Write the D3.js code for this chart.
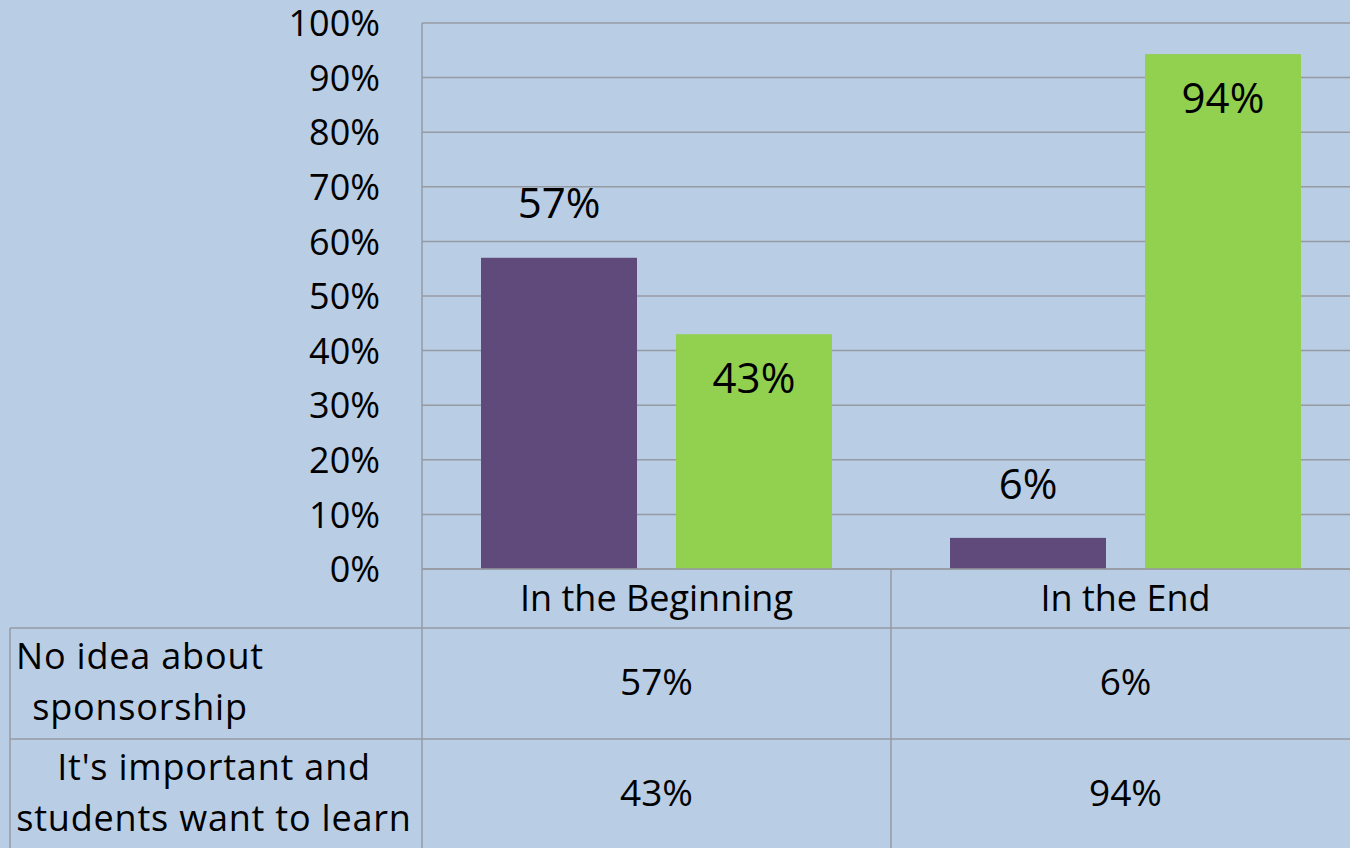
<!DOCTYPE html>
<html>
<head>
<meta charset="utf-8">
<script src="https://cdn.jsdelivr.net/npm/d3@7"></script>
<style>
  html, body { margin: 0; padding: 0; background: #B9CDE5; }
  svg { display: block; }
  text { font-family: "Open Sans", "DejaVu Sans", sans-serif; fill: #000; }
</style>
</head>
<body>
<svg id="chart" width="1350" height="848"></svg>
<script>
// ---- data ----
const categories = ["In the Beginning", "In the End"];
const seriesNames = ["No idea about sponsorship", "It's important and students want to learn"];
const seriesLabelLines = [["No idea about", "sponsorship"], ["It's important and", "students want to learn"]];
const noIdeaValues = [0.57, 0.057];
const importantValues = [0.43, 0.943];
const tickValues = [0, 0.1, 0.2, 0.3, 0.4, 0.5, 0.6, 0.7, 0.8, 0.9, 1.0];
const seriesColors = ["#604A7B", "#92D050"];

const seriesValues = [noIdeaValues, importantValues];
const fmt = d3.format(".0%");

const W = 1350, H = 848;
const plotLeft = 422, plotTop = 23, plotBottom = 569;
const bandW = 469;
const svg = d3.select("#chart");
const gridColor = "#969aa2";

const x = d3.scaleBand().domain(categories).range([plotLeft, plotLeft + bandW * categories.length]).padding(0);
const xs = d3.scaleBand().domain(seriesNames).range([0, x.bandwidth()]).paddingInner(0.2).paddingOuter(0.3026);
const y = d3.scaleLinear().domain([0, 1]).range([plotBottom, plotTop]);

// gridlines
svg.append("g").selectAll("line").data(tickValues).join("line")
  .attr("x1", plotLeft).attr("x2", W)
  .attr("y1", d => y(d)).attr("y2", d => y(d))
  .attr("stroke", gridColor).attr("stroke-width", 1.5);

// y axis labels
const yAxis = d3.axisLeft(y).tickValues(tickValues).tickFormat(d3.format(".0%")).tickSize(0).tickPadding(0);
const gy = svg.append("g").attr("transform", `translate(380,0)`).call(yAxis);
gy.select(".domain").remove();
gy.selectAll("text").style("font-size", "36px").style("font-family", "'Open Sans', sans-serif").attr("fill", "#000").attr("dy", "0.35em");

// bars
const data = [];
categories.forEach((c, i) => seriesNames.forEach((s, j) => data.push({c, s, j, v: seriesValues[j][i]})));
svg.append("g").selectAll("rect").data(data).join("rect")
  .attr("x", d => x(d.c) + xs(d.s))
  .attr("y", d => y(d.v))
  .attr("width", xs.bandwidth())
  .attr("height", d => y(0) - y(d.v))
  .attr("fill", d => seriesColors[d.j]);

// bar labels
svg.append("g").selectAll("text").data(data).join("text")
  .attr("x", d => x(d.c) + xs(d.s) + xs.bandwidth() / 2)
  .attr("y", d => d.j === 0 ? y(d.v) - 54 : y(d.v) + 44)
  .attr("dy", "0.35em")
  .attr("text-anchor", "middle")
  .style("font-size", "42px")
  .text(d => fmt(d.v));

// frame / table lines
const lines = [
  [plotLeft, plotTop, plotLeft, H],
  [plotLeft, plotBottom, W, plotBottom],
  [10, 628, W, 628],
  [10, 739, W, 739],
  [10, 628, 10, H],
  [plotLeft + bandW, plotBottom, plotLeft + bandW, H]
];
svg.append("g").selectAll("line").data(lines).join("line")
  .attr("x1", d => d[0]).attr("y1", d => d[1]).attr("x2", d => d[2]).attr("y2", d => d[3])
  .attr("stroke", gridColor).attr("stroke-width", 1.5);

// category labels
svg.append("g").selectAll("text").data(categories).join("text")
  .attr("x", d => x(d) + x.bandwidth() / 2)
  .attr("y", 598).attr("dy", "0.35em")
  .attr("text-anchor", "middle")
  .style("font-size", "36px")
  .text(d => d);

// table rows
const rowCenters = [682, 793];
const headerCenters = [140, 214];
seriesNames.forEach((s, j) => {
  const lines2 = seriesLabelLines[j];
  lines2.forEach((ln, k) => {
    svg.append("text")
      .attr("x", headerCenters[j])
      .attr("y", rowCenters[j] + (k - 0.5) * 51)
      .attr("dy", "0.35em")
      .attr("text-anchor", "middle")
      .style("font-size", "36px").style("letter-spacing", "0.8px")
      .text(ln);
  });
  categories.forEach((c, i) => {
    svg.append("text")
      .attr("x", x(c) + x.bandwidth() / 2)
      .attr("y", rowCenters[j])
      .attr("dy", "0.35em")
      .attr("text-anchor", "middle")
      .style("font-size", "37px")
      .text(fmt(seriesValues[j][i]));
  });
});
</script>
</body>
</html>
